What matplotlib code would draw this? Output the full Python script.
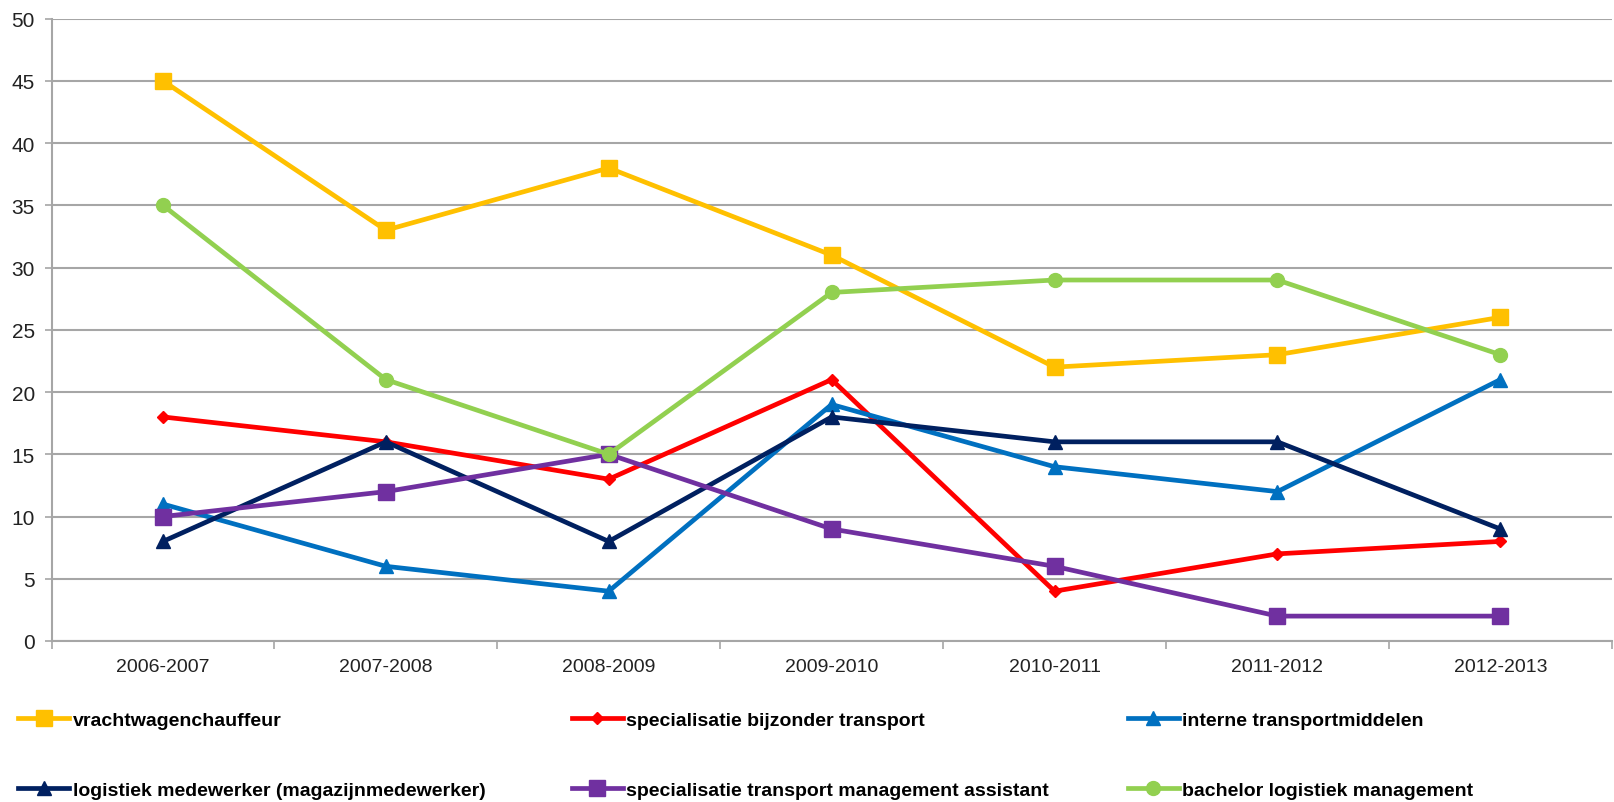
import matplotlib
matplotlib.use("Agg")
import matplotlib.pyplot as plt

categories = ["2006-2007", "2007-2008", "2008-2009", "2009-2010", "2010-2011", "2011-2012", "2012-2013"]
vrachtwagenchauffeur = [45, 33, 38, 31, 22, 23, 26]
specialisatie_bijzonder = [18, 16, 13, 21, 4, 7, 8]
interne_transport = [11, 6, 4, 19, 14, 12, 21]
logistiek_medewerker = [8, 16, 8, 18, 16, 16, 9]
specialisatie_tma = [10, 12, 15, 9, 6, 2, 2]
bachelor_logistiek = [35, 21, 15, 28, 29, 29, 23]
yticks = [0, 5, 10, 15, 20, 25, 30, 35, 40, 45, 50]

series = [
    ("vrachtwagenchauffeur", vrachtwagenchauffeur, "#FFC000", "s", 11),
    ("specialisatie bijzonder transport", specialisatie_bijzonder, "#FF0000", "D", 6.5),
    ("interne transportmiddelen", interne_transport, "#0070C0", "^", 10),
    ("logistiek medewerker (magazijnmedewerker)", logistiek_medewerker, "#002060", "^", 10),
    ("specialisatie transport management assistant", specialisatie_tma, "#7030A0", "s", 11),
    ("bachelor logistiek management", bachelor_logistiek, "#92D050", "o", 10),
]

W, H = 1615, 803
fig = plt.figure(figsize=(W / 100, H / 100), dpi=100)
ax = fig.add_axes([51.5 / W, 1 - 642 / H, 1 - 51.5 / W - 0.002, (642 - 19.6) / H])

x = list(range(len(categories)))
handles = []
for name, vals, col, mk, ms in series:
    h, = ax.plot(x, vals, color=col, lw=3.4, marker=mk, markersize=ms,
                 markerfacecolor=col, markeredgecolor=col, label=name, solid_joinstyle="round")
    handles.append(h)

ax.set_xlim(-0.5, len(categories) - 0.5)
ax.set_ylim(0, 50)
ax.set_yticks(yticks)
ax.set_yticklabels([str(v) for v in yticks], fontsize=15, family=["Liberation Sans", "DejaVu Sans"], color="#222222")
ax.set_xticks(x)
ax.set_xticklabels(categories, fontsize=14, family=["Liberation Sans Narrow", "Liberation Sans", "DejaVu Sans"], color="#222222")
ax.set_xticks([i - 0.5 for i in range(len(categories) + 1)], minor=True)
ax.tick_params(axis="x", which="major", length=0, pad=12)
ax.tick_params(axis="x", which="minor", length=6, color="#A6A6A6", width=1.2)
ax.tick_params(axis="y", length=5, color="#A6A6A6", width=1.2, pad=7)
ax.grid(axis="y", color="#A6A6A6", lw=1.5)
ax.set_axisbelow(True)
for s in ["top", "right"]:
    ax.spines[s].set_visible(False)
for s in ["left", "bottom"]:
    ax.spines[s].set_color("#A6A6A6")
    ax.spines[s].set_linewidth(1.5)

pos = [(18.5, 721), (572, 721), (1128, 721), (18.5, 791), (572, 791), (1128, 791)]
for h, (px, py) in zip(handles, pos):
    fig.legend(handles=[h], loc="center left", bbox_to_anchor=(px / W, 1 - py / H),
               frameon=False, handlelength=2.6, handletextpad=0.2, borderpad=0, borderaxespad=0,
               prop={"family": ["Liberation Sans Narrow", "Liberation Sans", "DejaVu Sans"], "weight": "bold", "size": 14})

fig.savefig("out.png", dpi=100, facecolor="white")
